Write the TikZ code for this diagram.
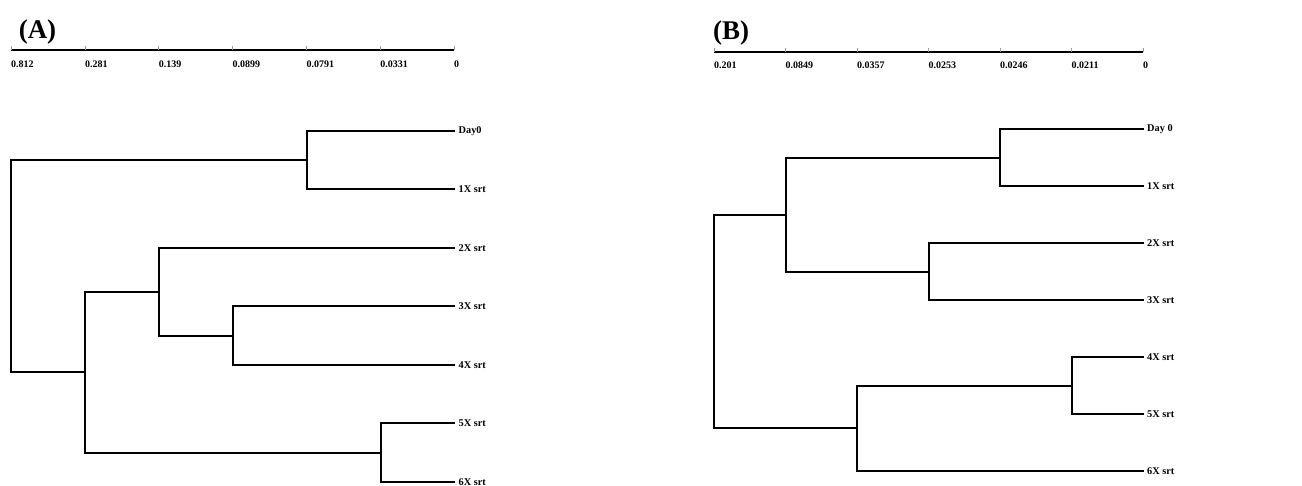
\documentclass[tikz,border=0pt]{standalone}
\usepackage{fontspec}
\setmainfont{Liberation Serif}
\begin{document}
\begin{tikzpicture}[x=1pt,y=-1pt,
  branch/.style={line width=2.2pt, line cap=rect, black},
  axisline/.style={line width=2.2pt, black},
  tickmark/.style={line width=0.6pt, black!40},
  ticklabel/.style={anchor=west, inner sep=0pt, font=\bfseries\fontsize{10}{11}\selectfont},
  leaflabel/.style={anchor=west, inner sep=0pt, font=\bfseries\fontsize{10.3}{11}\selectfont},
  panellabel/.style={inner sep=0pt, font=\bfseries\fontsize{27}{30}\selectfont}]
\useasboundingbox (0,0) rectangle (1302,486);

% ---------- Panel A ----------
\node[panellabel] (labA) at (37.5,32) {(A)};
\coordinate (axA0) at (11,50);
\coordinate (axA1) at (454,50);
\draw[axisline] (axA0) -- (axA1);
\foreach \v [count=\i from 0] in {0.812,0.281,0.139,0.0899,0.0791,0.0331,0} {
  \draw[tickmark] (11+73.83*\i,50) -- ++(0,-3.5);
  \node[ticklabel] (tA\i) at (11+73.83*\i,64) {\v};
}
% leaves
\coordinate (A0) at (454,131);
\coordinate (A1) at (454,189);
\coordinate (A2) at (454,248);
\coordinate (A3) at (454,306);
\coordinate (A4) at (454,365);
\coordinate (A5) at (454,423);
\coordinate (A6) at (454,482);
\node[leaflabel] (lA0) at (458.5,131) {Day0};
\node[leaflabel] (lA1) at (458.5,189) {1X srt};
\node[leaflabel] (lA2) at (458.5,248) {2X srt};
\node[leaflabel] (lA3) at (458.5,306) {3X srt};
\node[leaflabel] (lA4) at (458.5,365) {4X srt};
\node[leaflabel] (lA5) at (458.5,423) {5X srt};
\node[leaflabel] (lA6) at (458.5,482) {6X srt};
% internal nodes
\coordinate (nA01) at (307,160);
\coordinate (nA34) at (233,336);
\coordinate (nA234) at (159,292);
\coordinate (nA56) at (381,453);
\coordinate (nA23456) at (85,372);
\coordinate (rA) at (11,266);
\draw[branch] (A0) -| (nA01) |- (A1);
\draw[branch] (A3) -| (nA34) |- (A4);
\draw[branch] (A2) -| (nA234) |- (nA34);
\draw[branch] (A5) -| (nA56) |- (A6);
\draw[branch] (nA234) -| (nA23456) |- (nA56);
\draw[branch] (nA01) -| (rA) |- (nA23456);

% ---------- Panel B ----------
\node[panellabel] (labB) at (731,33) {(B)};
\coordinate (axB0) at (714,52);
\coordinate (axB1) at (1143,52);
\draw[axisline] (axB0) -- (axB1);
\foreach \v [count=\i from 0] in {0.201,0.0849,0.0357,0.0253,0.0246,0.0211,0} {
  \draw[tickmark] (714+71.5*\i,52) -- ++(0,-3.5);
  \node[ticklabel] (tB\i) at (714+71.5*\i,65) {\v};
}
\coordinate (B0) at (1143,129);
\coordinate (B1) at (1143,186);
\coordinate (B2) at (1143,243);
\coordinate (B3) at (1143,300);
\coordinate (B4) at (1143,357);
\coordinate (B5) at (1143,414);
\coordinate (B6) at (1143,471);
\node[leaflabel] (lB0) at (1147,129) {Day 0};
\node[leaflabel] (lB1) at (1147,186) {1X srt};
\node[leaflabel] (lB2) at (1147,243) {2X srt};
\node[leaflabel] (lB3) at (1147,300) {3X srt};
\node[leaflabel] (lB4) at (1147,357) {4X srt};
\node[leaflabel] (lB5) at (1147,414) {5X srt};
\node[leaflabel] (lB6) at (1147,471) {6X srt};
\coordinate (nB01) at (1000,158);
\coordinate (nB23) at (929,272);
\coordinate (nB0123) at (786,215);
\coordinate (nB45) at (1072,386);
\coordinate (nB456) at (857,428);
\coordinate (rB) at (714,321);
\draw[branch] (B0) -| (nB01) |- (B1);
\draw[branch] (B2) -| (nB23) |- (B3);
\draw[branch] (nB01) -| (nB0123) |- (nB23);
\draw[branch] (B4) -| (nB45) |- (B5);
\draw[branch] (nB45) -| (nB456) |- (B6);
\draw[branch] (nB0123) -| (rB) |- (nB456);
\end{tikzpicture}
\end{document}
